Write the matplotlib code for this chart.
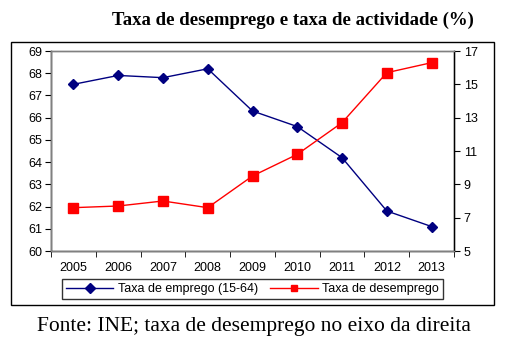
import matplotlib.pyplot as plt
import numpy as np
from matplotlib.patches import Rectangle

# Data
years = ["2005", "2006", "2007", "2008", "2009", "2010", "2011", "2012", "2013"]
emprego = [67.5, 67.9, 67.8, 68.2, 66.3, 65.6, 64.2, 61.8, 61.1]
desemprego = [7.6, 7.7, 8.0, 7.6, 9.5, 10.8, 12.7, 15.7, 16.3]

W, H = 507, 348
fig = plt.figure(figsize=(W / 100, H / 100), dpi=100)

def fx(px):
    return px / W

def fy(py):
    return 1 - py / H

# outer chart frame
fig.patches.append(Rectangle((fx(11), fy(305)), fx(494) - fx(11), fy(42) - fy(305),
                             transform=fig.transFigure, fill=False,
                             edgecolor="black", linewidth=1))

ax = fig.add_axes([fx(51), fy(251), fx(454) - fx(51), fy(51) - fy(251)])
ax2 = ax.twinx()

x = np.arange(len(years))
l1, = ax.plot(x, emprego, color="#000080", marker="D", ms=5, mfc="#000080",
              mec="#000080", linewidth=1, label="Taxa de emprego (15-64)")
l2, = ax2.plot(x, desemprego, color="#FF0000", marker="s", ms=7, mfc="#FF0000",
               mec="#FF0000", linewidth=1, label="Taxa de desemprego")

ax.set_xlim(-0.5, len(years) - 0.5)
ax.set_ylim(60, 69)
ax.set_yticks(np.arange(60, 70, 1))
ax2.set_ylim(5, 17)
ax2.set_yticks(np.arange(5, 18, 2))

ax.set_xticks(x)
ax.set_xticklabels(years)
ax.set_xticks(np.arange(-0.5, len(years), 1), minor=True)
ax.tick_params(axis="x", which="major", length=0, pad=8, labelsize=9)
ax.tick_params(axis="x", which="minor", length=4, direction="out", color="black")
ax.tick_params(axis="y", length=4, direction="out", labelsize=9, pad=2)
ax2.tick_params(axis="y", length=4, direction="out", labelsize=9, pad=3)

for a in (ax, ax2):
    for s in a.spines.values():
        s.set_color("#808080")
        s.set_linewidth(1)
ax.spines["left"].set_color("black")
ax.spines["bottom"].set_color("black")
ax2.spines["right"].set_color("black")

for lab in ax.get_xticklabels() + ax.get_yticklabels() + ax2.get_yticklabels():
    lab.set_family("Liberation Sans")

leg = fig.legend(handles=[l1, l2], loc="center", ncol=2,
                 bbox_to_anchor=(fx(252.5), fy(289)), frameon=True, fancybox=False,
                 edgecolor="black", prop={"family": "Liberation Sans", "size": 9},
                 handlelength=3.8, columnspacing=1.0, handletextpad=0.35,
                 borderpad=0.3, borderaxespad=0)
leg.get_frame().set_linewidth(1)
for h in leg.legend_handles:
    h.set_markersize(5)

fig.text(fx(293), fy(20), "Taxa de desemprego e taxa de actividade (%)",
         ha="center", va="center", family="Liberation Serif",
         fontweight="bold", fontsize=13.5)
fig.text(fx(254), fy(326), "Fonte: INE; taxa de desemprego no eixo da direita",
         ha="center", va="center", family="Liberation Serif", fontsize=15.5)

fig.savefig("out.png", dpi=100)
